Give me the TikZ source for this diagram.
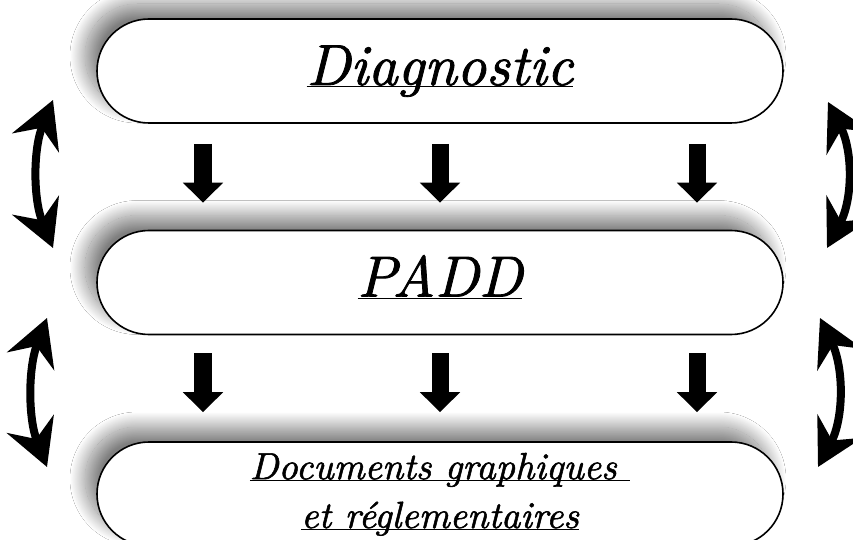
\documentclass[tikz,border=0pt]{standalone}
\usepackage{fontspec}
\newfontfamily\bodyit{lmroman10-italic}[Extension=.otf, FakeBold=1.4]
\usetikzlibrary{arrows.meta,shadows.blur}
\newcommand\ulx[1]{\underline{\raisebox{0pt}[\height][0pt]{#1}}}
\begin{document}
\begin{tikzpicture}[x=1bp,y=-1bp,
  box/.style={draw=black, line width=1.6bp, fill=white, rounded corners=52bp,
    minimum width=686bp, minimum height=104bp, inner sep=0pt,
    blur shadow={shadow xshift=-12bp, shadow yshift=15bp, shadow blur radius=15bp, shadow blur steps=40, shadow opacity=50}},
  bigtext/.style={font=\bodyit\fontsize{58}{70}\selectfont, text height=28bp, text depth=0bp},
  smalltext/.style={font=\bodyit\fontsize{38}{49}\selectfont, align=center, text height=68bp, text depth=0bp},
  darr/.style={line width=17bp, -{Triangle[length=20bp,width=39bp]}},
  sarr/.style={line width=8bp, {Stealth[length=46bp,width=50bp,inset=16bp]}-{Stealth[length=46bp,width=50bp,inset=16bp]}}]
\useasboundingbox (0,0) rectangle (853,540);
\fill[white] (0,0) rectangle (853,540);

\node[box, bigtext] (diag) at (440,71) {\ulx{Diagnostic}};
\node[box, bigtext] (padd) at (440,282.5) {\ulx{PADD}};
\node[box, smalltext] (docs) at (440,494) {\ulx{Documents graphiques\ }\\\ulx{et réglementaires}};

% down arrows
\foreach \dx in {-237,0,257}{
  \draw[darr] ([xshift=\dx bp,yshift=-20bp]diag.south) -- ([xshift=\dx bp,yshift=27bp]padd.north);
  \draw[darr] ([xshift=\dx bp,yshift=-18bp]padd.south) -- ([xshift=\dx bp,yshift=29bp]docs.north);
}

% side arrows
\coordinate (la1) at (53,100);  \coordinate (lb1) at (53,248);
\coordinate (la2) at (47,318);  \coordinate (lb2) at (47,467);
\coordinate (ra1) at (828,102); \coordinate (rb1) at (827,248);
\coordinate (ra2) at (820,318); \coordinate (rb2) at (818,467);
\draw[sarr] (la1) .. controls (33,149) and (33,199) .. (lb1);
\draw[sarr] (la2) .. controls (28,368) and (28,418) .. (lb2);
\draw[sarr] (ra1) .. controls (853,151) and (853,199) .. (rb1);
\draw[sarr] (ra2) .. controls (844,368) and (844,418) .. (rb2);
\end{tikzpicture}
\end{document}
